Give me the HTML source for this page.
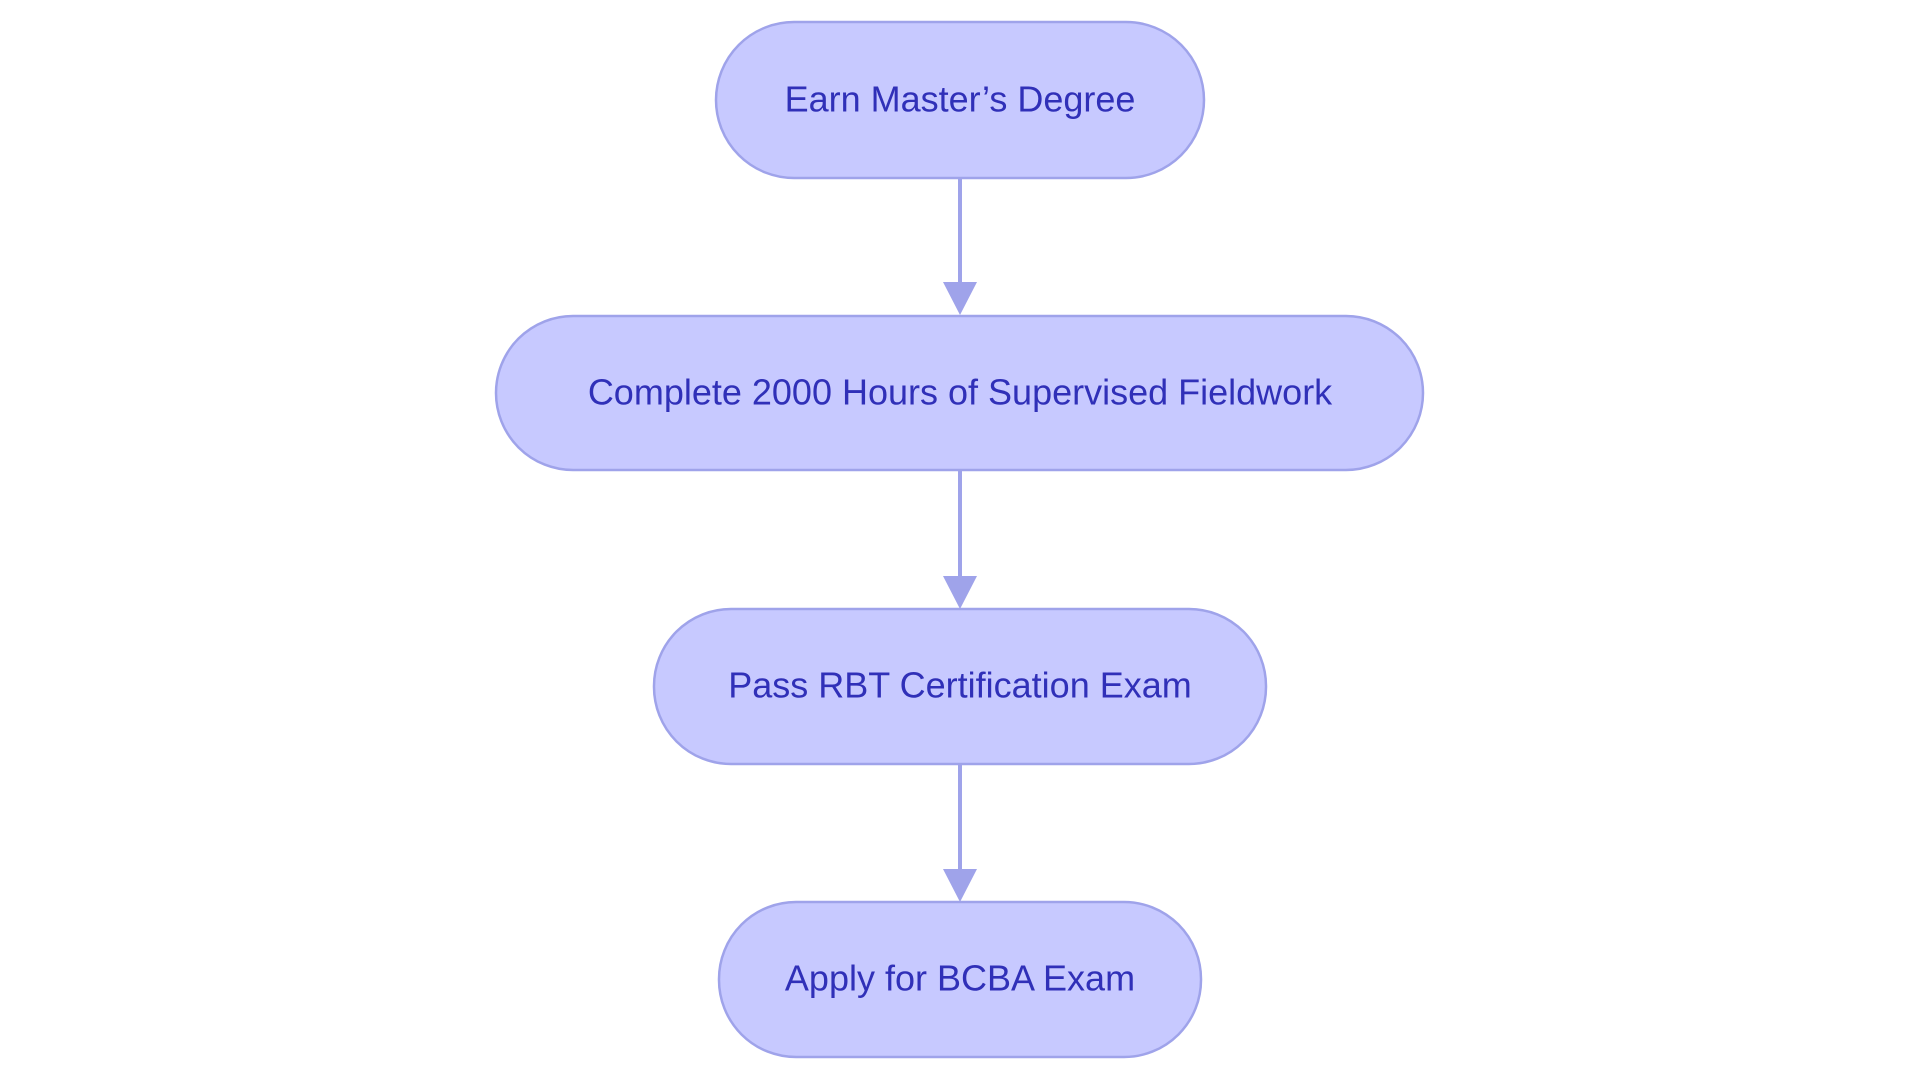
<!DOCTYPE html>
<html><head><meta charset="utf-8"><style>
html,body{margin:0;padding:0;background:#fff;}
svg{display:block;}
text{font-family:"Liberation Sans",sans-serif;font-size:36px;fill:#3030b8;text-anchor:middle;dominant-baseline:central;}
</style></head><body>
<svg width="1920" height="1083" viewBox="0 0 1920 1083">
<defs><marker id="a" markerWidth="10" markerHeight="10" refX="5" refY="5" orient="auto" markerUnits="userSpaceOnUse" viewBox="0 0 10 10"><path d="M0,0 L10,5 L0,10 z" fill="#9fa3ea"/></marker></defs>
<g stroke="#9fa3ea" stroke-width="4" fill="none">
<line x1="960" y1="178" x2="960" y2="284"/>
<line x1="960" y1="470" x2="960" y2="578"/>
<line x1="960" y1="764" x2="960" y2="872"/>
</g>
<g fill="#9fa3ea">
<path d="M943,282 L977,282 L960,315 z"/>
<path d="M943,576 L977,576 L960,609 z"/>
<path d="M943,869 L977,869 L960,902 z"/>
</g>
<g fill="#c7c9ff" stroke="#9fa3ea" stroke-width="2.5">
<rect x="716" y="22" width="488" height="156" rx="78"/>
<rect x="496" y="316" width="927" height="154" rx="77"/>
<rect x="654" y="609" width="612" height="155" rx="77"/>
<rect x="719" y="902" width="482" height="155" rx="77"/>
</g>
<text x="960" y="99">Earn Master’s Degree</text>
<text x="960" y="392">Complete 2000 Hours of Supervised Fieldwork</text>
<text x="960" y="685">Pass RBT Certification Exam</text>
<text x="960" y="978">Apply for BCBA Exam</text>
</svg>
</body></html>
